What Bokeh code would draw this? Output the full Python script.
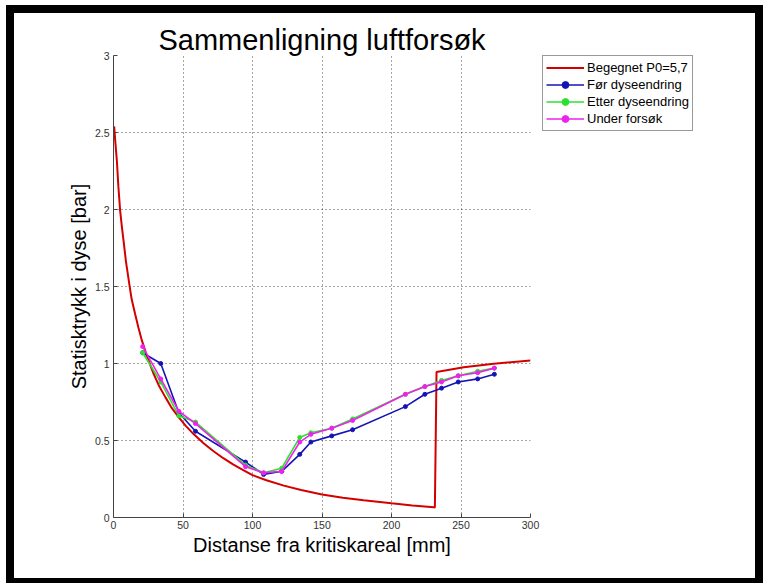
from bokeh.plotting import figure
from bokeh.layouts import row
from bokeh.models import Range1d, Legend, LegendItem, FixedTicker
from bokeh.embed import file_html
from bokeh.resources import INLINE

# ---- data ----
red_x = [0.5, 1.2, 2.4, 3.5, 4.8, 6.0, 7.2, 9.0, 11.3, 13.0, 15.6, 18.0, 20.4, 24.0,
         29.0, 33.0, 37.4, 42.0, 47.0, 52.0, 57.8, 65.0, 72.0, 79.0, 86.0, 93.0,
         100.0, 110.0, 122.5, 135.0, 150.0, 165.0, 180.0, 200.0, 215.0, 230.4,
         231.2, 232.4, 252.0, 273.6, 300.0]
red_y = [2.54, 2.45, 2.32, 2.15, 1.99, 1.89, 1.80, 1.66, 1.52, 1.42, 1.32, 1.23, 1.15,
         1.05, 0.93, 0.85, 0.78, 0.71, 0.65, 0.595, 0.54, 0.48, 0.43, 0.385, 0.345,
         0.31, 0.275, 0.242, 0.207, 0.178, 0.15, 0.128, 0.112, 0.092, 0.078, 0.067,
         0.065, 0.945, 0.975, 0.998, 1.02]

meas_x = [21, 34, 47, 59, 95, 108, 121, 134, 142, 157, 172, 210, 224, 236, 248, 262, 274]
foer_y = [1.07, 1.00, 0.68, 0.56, 0.36, 0.28, 0.30, 0.41, 0.49, 0.53, 0.57, 0.72, 0.80,
          0.84, 0.88, 0.90, 0.93]
etter_y = [1.07, 0.88, 0.66, 0.62, 0.34, 0.29, 0.32, 0.52, 0.55, 0.58, 0.64, 0.80, 0.85,
           0.89, 0.92, 0.95, 0.97]
under_y = [1.11, 0.90, 0.69, 0.61, 0.33, 0.29, 0.30, 0.49, 0.54, 0.58, 0.63, 0.80, 0.85,
           0.88, 0.92, 0.94, 0.97]

series_labels = ["Begegnet P0=5,7", "Før dyseendring", "Etter dyseendring", "Under forsøk"]
x_ticks = [0, 50, 100, 150, 200, 250, 300]
y_ticks = [0, 0.5, 1, 1.5, 2, 2.5, 3]
y_tick_labels = ["0", "0.5", "1", "1.5", "2", "2.5", "3"]

title_text = "Sammenligning luftforsøk"
x_label = "Distanse fra kritiskareal [mm]"
y_label = "Statisktrykk i dyse [bar]"

RED = "#d40000"
BLUE = "#1414b4"
GREEN = "#2ee02e"
MAGENTA = "#ee22ee"
COLORS = [BLUE, GREEN, MAGENTA]
FONT = "Liberation Sans"

# ---- main plot ----
p = figure(width=528, height=565, output_backend="svg", toolbar_location=None,
           x_range=Range1d(0, 300), y_range=Range1d(0, 3),
           min_border_left=99, min_border_right=12, min_border_top=42,
           min_border_bottom=61, background_fill_color="white",
           border_fill_color="white")
p.outline_line_color = None

p.title.text = title_text
p.title.align = "center"
p.title.text_font = FONT
p.title.text_font_size = "29px"
p.title.text_font_style = "normal"
p.title.text_color = "black"
p.title.standoff = 0

p.xaxis.ticker = FixedTicker(ticks=x_ticks)
p.yaxis.ticker = FixedTicker(ticks=y_ticks)
p.yaxis.major_label_overrides = dict(zip(y_ticks, y_tick_labels))
p.xaxis.axis_label = x_label
p.yaxis.axis_label = y_label
for ax in (p.xaxis[0], p.yaxis[0]):
    ax.axis_line_color = "#444444"
    ax.major_tick_line_color = "#444444"
    ax.major_tick_in = 4
    ax.major_tick_out = 0
    ax.minor_tick_line_color = None
    ax.major_label_text_font = FONT
    ax.major_label_text_font_size = "10.5px"
    ax.major_label_text_color = "#333333"
    ax.axis_label_text_font = FONT
    ax.axis_label_text_font_size = "20px"
    ax.axis_label_text_font_style = "normal"
    ax.axis_label_text_color = "black"
p.xaxis.major_label_standoff = 3
p.yaxis.major_label_standoff = 4
p.xaxis.axis_label_standoff = 2
p.yaxis.axis_label_standoff = 2

for g in (p.xgrid[0], p.ygrid[0]):
    g.grid_line_color = "black"
    g.grid_line_alpha = 0.7
    g.grid_line_dash = "1 3"
    g.grid_line_width = 1

p.line(red_x, red_y, line_color=RED, line_width=2)
for ys, col in zip((foer_y, etter_y, under_y), COLORS):
    p.line(meas_x, ys, line_color=col, line_width=1.6)
    p.scatter(meas_x, ys, marker="circle", size=4, fill_color=col, line_color=col)

# ---- legend panel (separate canvas to the right of the axes) ----
# Its ranges lie far outside the data, so its renderers only feed the legend.
q = figure(width=213, height=565, output_backend="svg", toolbar_location=None,
           x_axis_type=None, y_axis_type=None, x_range=Range1d(1000, 1001),
           y_range=Range1d(1000, 1001), min_border_left=0, min_border_right=0,
           min_border_top=42, min_border_bottom=61,
           background_fill_color="white", border_fill_color="white")
q.outline_line_color = None
q.xgrid.visible = False
q.ygrid.visible = False

items = [LegendItem(label=series_labels[0],
                    renderers=[q.line(red_x, red_y, line_color=RED, line_width=2)])]
for lab, ys, col in zip(series_labels[1:], (foer_y, etter_y, under_y), COLORS):
    rl = q.line(meas_x, ys, line_color=col, line_width=1.6)
    rs = q.scatter(meas_x, ys, marker="circle", size=4, fill_color=col, line_color=col)
    items.append(LegendItem(label=lab, renderers=[rl, rs]))

legend = Legend(items=items, location="top_left")
legend.label_text_font = FONT
legend.label_text_font_size = "13px"
legend.label_text_color = "black"
legend.label_height = 17
legend.glyph_height = 17
legend.glyph_width = 38
legend.label_standoff = 3
legend.spacing = 0
legend.padding = 3
legend.margin = 0
legend.border_line_color = "#333333"
legend.border_line_width = 1
legend.background_fill_color = "white"
legend.background_fill_alpha = 1
q.add_layout(legend)

lay = row(p, q)
lay.margin = (13, 0, 0, 14)
lay.styles = {"box-shadow": "0 0 0 8px black"}

open("out.html", "w").write(file_html(lay, INLINE))
